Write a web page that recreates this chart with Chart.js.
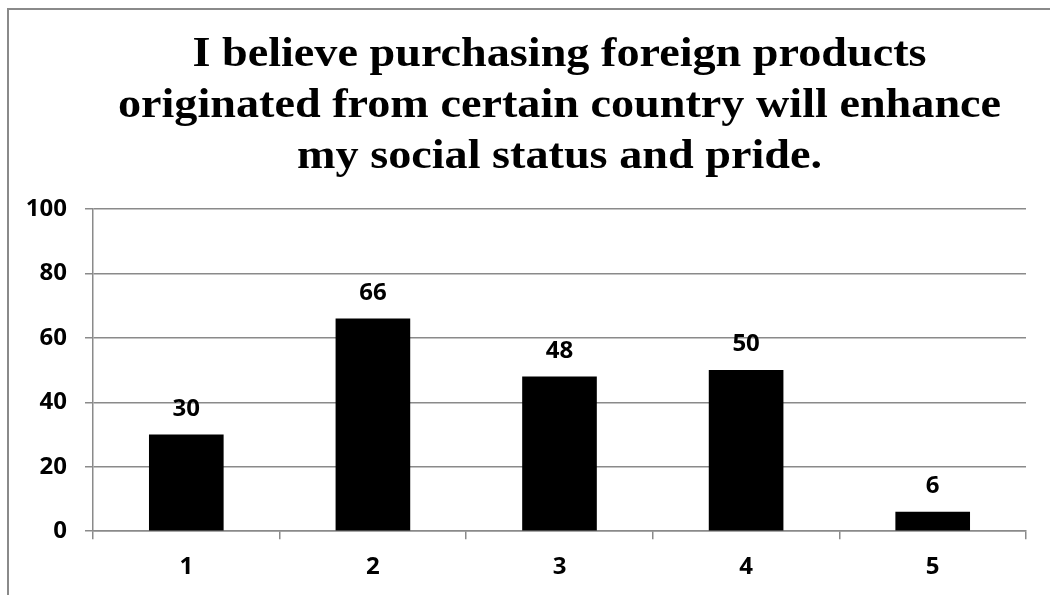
<!DOCTYPE html>
<html>
<head>
<meta charset="utf-8">
<script src="https://cdn.jsdelivr.net/npm/chart.js@4/dist/chart.umd.min.js"></script>
<style>
  html, body { margin: 0; padding: 0; background: #fff; overflow: hidden; }
  #frame {
    position: absolute; left: 7px; top: 8px;
    width: 1104px; height: 600px;
    border: 2px solid #8a8a8a;
    background: #fff;
  }
  #chart { display: block; }
</style>
</head>
<body>
<div id="frame"><canvas id="chart" width="1104" height="600"></canvas></div>
<script>
// Survey responses: number of respondents per rating (1-5)
const categories = ['1', '2', '3', '4', '5'];
const responses = [30, 66, 48, 50, 6];
const yTicks = [0, 20, 40, 60, 80, 100];
const titleLines = [
  'I believe purchasing foreign products',
  'originated from certain country will enhance',
  'my social status and pride.'
];

const labelFont = { family: '"Open Sans", "Liberation Sans", sans-serif', weight: 'bold', size: 24 };
const titleFont = 'bold 42px "Liberation Serif", "Times New Roman", serif';

// Serif heading centred over the plot area
const wideTitle = {
  id: 'wideTitle',
  afterDraw(chart) {
    const ctx = chart.ctx;
    const area = chart.chartArea;
    const cx = (area.left + area.right) / 2;
    const stretch = 1.1;
    ctx.save();
    ctx.fillStyle = '#000';
    ctx.font = titleFont;
    ctx.textAlign = 'center';
    ctx.textBaseline = 'alphabetic';
    titleLines.forEach((line, i) => {
      ctx.save();
      ctx.translate(cx, 55.5 + i * 51);
      ctx.scale(stretch, 1);
      ctx.fillText(line, 0, 0);
      ctx.restore();
    });
    ctx.restore();
  }
};

// Writes each bar's value above it
const valueLabels = {
  id: 'valueLabels',
  afterDatasetsDraw(chart) {
    const ctx = chart.ctx;
    const meta = chart.getDatasetMeta(0);
    ctx.save();
    ctx.fillStyle = '#000';
    ctx.font = `bold ${labelFont.size}px ${labelFont.family}`;
    ctx.textAlign = 'center';
    ctx.textBaseline = 'alphabetic';
    meta.data.forEach((bar, i) => {
      ctx.fillText(String(responses[i]), bar.x, bar.y - 19);
    });
    ctx.restore();
  }
};

new Chart(document.getElementById('chart'), {
  type: 'bar',
  data: {
    labels: categories,
    datasets: [{
      data: responses,
      backgroundColor: '#000',
      borderWidth: 0,
      barPercentage: 0.4,
      categoryPercentage: 1.0
    }]
  },
  options: {
    responsive: false,
    animation: false,
    devicePixelRatio: 1,
    layout: { padding: { left: 0, right: 87, top: 199, bottom: 14 } },
    plugins: {
      legend: { display: false },
      tooltip: { enabled: false },
      title: { display: false }
    },
    scales: {
      x: {
        offset: true,
        grid: {
          offset: true,
          drawOnChartArea: false,
          drawTicks: true,
          tickLength: 8,
          color: '#8a8a8a',
          lineWidth: 1.5
        },
        border: { display: true, color: '#8a8a8a', width: 1.5 },
        ticks: { color: '#000', font: labelFont, padding: 14 }
      },
      y: {
        min: 0,
        max: 100,
        afterBuildTicks(axis) { axis.ticks = yTicks.map(v => ({ value: v })); },
        afterFit(axis) { axis.width = 84; },
        grid: {
          color: '#8a8a8a',
          lineWidth: 1.5,
          tickLength: 8
        },
        border: { display: true, color: '#8a8a8a', width: 1.5 },
        ticks: { color: '#000', font: labelFont, padding: 18 }
      }
    }
  },
  plugins: [valueLabels, wideTitle]
});
</script>
</body>
</html>
